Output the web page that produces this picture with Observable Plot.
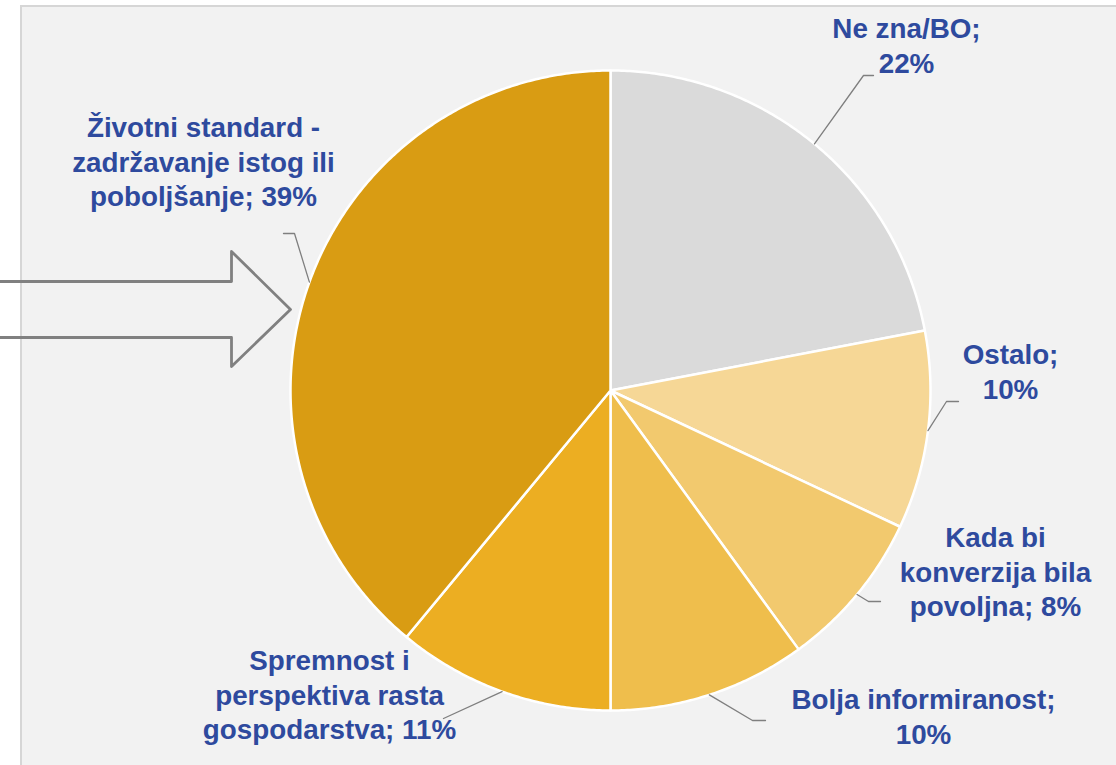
<!DOCTYPE html>
<html>
<head>
<meta charset="utf-8">
<script src="https://cdn.jsdelivr.net/npm/d3@7"></script>
<script src="https://cdn.jsdelivr.net/npm/@observablehq/plot@0.6"></script>
<style>
  html, body { margin: 0; padding: 0; background: #ffffff; overflow: hidden; }
  #chart svg { display: block; }
</style>
</head>
<body>
<div id="chart"></div>
<script>
// ---- Data ----
const categories = [
  "Ne zna/BO",
  "Ostalo",
  "Kada bi konverzija bila povoljna",
  "Bolja informiranost",
  "Spremnost i perspektiva rasta gospodarstva",
  "Životni standard - zadržavanje istog ili poboljšanje"
];
const values = [22, 10, 8, 10, 11, 39];
const labelTexts = [
  "Ne zna/BO;\n22%",
  "Ostalo;\n10%",
  "Kada bi\nkonverzija bila\npovoljna; 8%",
  "Bolja informiranost;\n10%",
  "Spremnost i\nperspektiva rasta\ngospodarstva; 11%",
  "Životni standard -\nzadržavanje istog ili\npoboljšanje; 39%"
];
const sliceColors = ["#dadada", "#f6d796", "#f2c96e", "#efbe4c", "#ecae22", "#d99c13"];

// ---- Layout (pixels) ----
const W = 1116, H = 765;
const R = 320, CX = 610, CY = 390;
const ux = px => (px - CX) / R;
const uy = py => (CY - py) / R;
// label block centres and leader elbow/end points (pixels)
const labelLayout = [
  {lx: 906, ly: 44,  elbow: [863, 75],  end: [873, 75]},
  {lx: 1010, ly: 370, elbow: [946, 401], end: [958, 401]},
  {lx: 995, ly: 570, elbow: [868, 601], end: [880, 601]},
  {lx: 923, ly: 715, elbow: [752, 720], end: [765, 720]},
  {lx: 329, ly: 693, elbow: [443, 718], end: [443, 718]},
  {lx: 203, ly: 160, elbow: [294, 233], end: [283, 233]}
];
const arrowPx = [[-5, 281], [231, 281], [231, 251], [290, 309], [231, 366], [231, 337], [-5, 337]];
const panelPx = {x1: 21, y1: 6, x2: W + 20, y2: H + 20};

// ---- Build pie geometry from data ----
const total = d3.sum(values);
const slicePts = [];
const leaderPts = [];
const labelRows = [];
let cum = 0;
values.forEach((v, i) => {
  const a0 = cum / total * 2 * Math.PI;
  const a1 = (cum + v) / total * 2 * Math.PI;
  cum += v;
  const n = Math.max(8, Math.ceil((a1 - a0) / (Math.PI / 360)));
  slicePts.push({cat: categories[i], x: 0, y: 0});
  for (let k = 0; k <= n; k++) {
    const a = a0 + (a1 - a0) * k / n;
    slicePts.push({cat: categories[i], x: Math.sin(a), y: Math.cos(a)});
  }
  const am = (a0 + a1) / 2;
  const L = labelLayout[i];
  leaderPts.push({cat: categories[i], x: Math.sin(am), y: Math.cos(am)});
  leaderPts.push({cat: categories[i], x: ux(L.elbow[0]), y: uy(L.elbow[1])});
  leaderPts.push({cat: categories[i], x: ux(L.end[0]), y: uy(L.end[1])});
  labelRows.push({text: labelTexts[i], x: ux(L.lx), y: uy(L.ly)});
});
const arrow = arrowPx.map(([px, py]) => ({x: ux(px), y: uy(py)}));
const panel = [{x1: ux(panelPx.x1), x2: ux(panelPx.x2), y1: uy(panelPx.y1), y2: uy(panelPx.y2)}];

const chart = Plot.plot({
  width: W,
  height: H,
  margin: 0,
  style: {background: "transparent", overflow: "visible"},
  x: {domain: [ux(0), ux(W)], range: [0, W], axis: null},
  y: {domain: [uy(0), uy(H)], range: [0, H], axis: null},
  color: {domain: categories, range: sliceColors},
  marks: [
    Plot.rect(panel, {x1: "x1", x2: "x2", y1: "y1", y2: "y2", fill: "#f2f2f2", stroke: "#d6d6d6", strokeWidth: 2}),
    Plot.line(slicePts, {x: "x", y: "y", z: "cat", fill: "cat", stroke: "#ffffff", strokeWidth: 2.5, curve: "linear-closed", strokeLinejoin: "round"}),
    Plot.line(leaderPts, {x: "x", y: "y", z: "cat", stroke: "#7f7f7f", strokeWidth: 1.3}),
    Plot.line(arrow, {x: "x", y: "y", stroke: "#808080", strokeWidth: 2.8, fill: "none"}),
    Plot.text(labelRows, {
      x: "x", y: "y", text: "text",
      textAnchor: "middle", lineAnchor: "middle", lineHeight: 1.24,
      fill: "#2e4a9e", fontSize: 27.8, fontWeight: "bold",
      fontFamily: "'Liberation Sans', Arial, sans-serif"
    })
  ]
});
document.getElementById("chart").appendChild(chart);
</script>
</body>
</html>
